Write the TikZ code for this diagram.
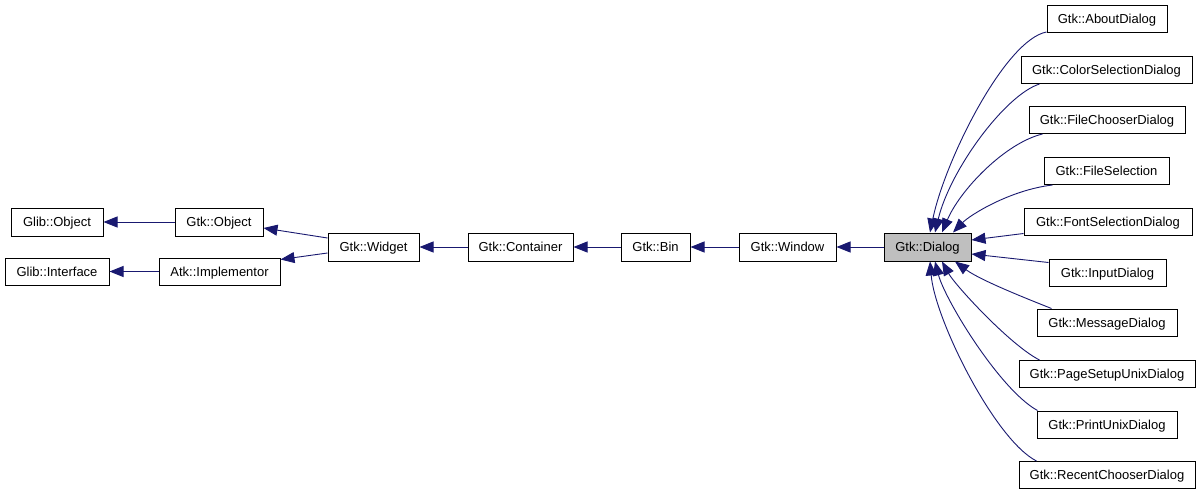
\documentclass[tikz,border=0pt]{standalone}
\usepackage{fontspec}
\setmainfont{Liberation Sans}
\usetikzlibrary{arrows.meta}
\definecolor{navyedge}{RGB}{25,25,112}
\definecolor{dlgfill}{RGB}{191,191,191}
\begin{document}
\begin{tikzpicture}[x=1pt,y=-1pt,
  cls/.style={draw=black,line width=1pt,fill=white,inner sep=0pt,minimum height=28pt,
    text height=9.3pt,text depth=0pt,font=\fontsize{13}{15}\selectfont},
  rcls/.style={cls,minimum height=27pt},
  edge/.style={draw=navyedge,line width=0.9pt,-{Triangle[length=14pt,width=11pt]}}]
\useasboundingbox (0,0) rectangle (1200,493);
\fill[white] (0,0) rectangle (1200,493);
% left chain
\node[cls,minimum width=92pt] (globj) at (57,222) {Glib::Object};
\node[cls,minimum width=88pt] (gtkobj) at (219,222) {Gtk::Object};
\node[cls,minimum width=104pt,minimum height=27pt] (glibif) at (57,271.5) {Glib::Interface};
\node[cls,minimum width=121pt,minimum height=27pt] (atkimpl) at (219.5,271.5) {Atk::Implementor};
\node[cls,minimum width=91pt] (widget) at (373.5,247) {Gtk::Widget};
\node[cls,minimum width=105pt] (container) at (520.5,247) {Gtk::Container};
\node[cls,minimum width=69pt] (bin) at (655.5,247) {Gtk::Bin};
\node[cls,minimum width=97pt] (window) at (787.5,247) {Gtk::Window};
\node[cls,minimum width=87pt,fill=dlgfill] (dlg) at (927.5,247) {Gtk::Dialog};
% right column
\node[rcls,minimum width=120pt] (about) at (1107,19) {Gtk::AboutDialog};
\node[rcls,minimum width=171pt] (colorsel) at (1106.5,70) {Gtk::ColorSelectionDialog};
\node[rcls,minimum width=156pt] (filechooser) at (1107,120) {Gtk::FileChooserDialog};
\node[rcls,minimum width=125pt] (filesel) at (1106.5,171) {Gtk::FileSelection};
\node[rcls,minimum width=168pt] (fontsel) at (1108,221.5) {Gtk::FontSelectionDialog};
\node[rcls,minimum width=117pt] (input) at (1107.5,272.5) {Gtk::InputDialog};
\node[rcls,minimum width=140pt] (message) at (1107,322.5) {Gtk::MessageDialog};
\node[rcls,minimum width=176pt] (pagesetup) at (1107,374) {Gtk::PageSetupUnixDialog};
\node[rcls,minimum width=140pt] (print) at (1107,424.5) {Gtk::PrintUnixDialog};
\node[rcls,minimum width=176pt] (recent) at (1107,475) {Gtk::RecentChooserDialog};
% left edges
\draw[edge] (gtkobj.west) -- (globj.east);
\draw[edge] (atkimpl.west) -- (glibif.east);
\draw[edge] ([yshift=9pt]widget.west) -- ([yshift=-6pt]gtkobj.east);
\draw[edge] ([yshift=-6pt]widget.west) -- ([yshift=12pt]atkimpl.east);
\draw[edge] (container.west) -- (widget.east);
\draw[edge] (bin.west) -- (container.east);
\draw[edge] (window.west) -- (bin.east);
\draw[edge] (dlg.west) -- (window.east);
% right edges
\draw[edge] ([yshift=1pt]about.south west) .. controls (1005,40) and (945,160) .. ([xshift=2.5pt]dlg.north);
\draw[edge] ([xshift=19pt]colorsel.south west) .. controls (1005,95) and (950,170) .. ([xshift=7.5pt]dlg.north);
\draw[edge] ([xshift=14pt]filechooser.south west) .. controls (1005,143) and (960,190) .. ([xshift=14.5pt]dlg.north);
\draw[edge] ([xshift=9pt]filesel.south west) .. controls (1010,190) and (970,215) .. ([xshift=25.5pt]dlg.north);
\draw[edge] ([yshift=2pt]fontsel.south west) -- ([yshift=7pt]dlg.east);
\draw[edge] ([yshift=-4pt]input.north west) -- ([yshift=-7pt]dlg.east);
\draw[edge] ([xshift=15pt]message.north west) .. controls (1025,298) and (980,280) .. ([xshift=27.5pt]dlg.south);
\draw[edge] ([xshift=21pt]pagesetup.north west) .. controls (1010,345) and (955,285) .. ([xshift=14.5pt]dlg.south);
\draw[edge] ([xshift=1pt]print.north west) .. controls (1000,390) and (945,300) .. ([xshift=7.5pt]dlg.south);
\draw[edge] ([xshift=18pt]recent.north west) .. controls (995,440) and (935,320) .. ([xshift=2.5pt]dlg.south);
\end{tikzpicture}
\end{document}
